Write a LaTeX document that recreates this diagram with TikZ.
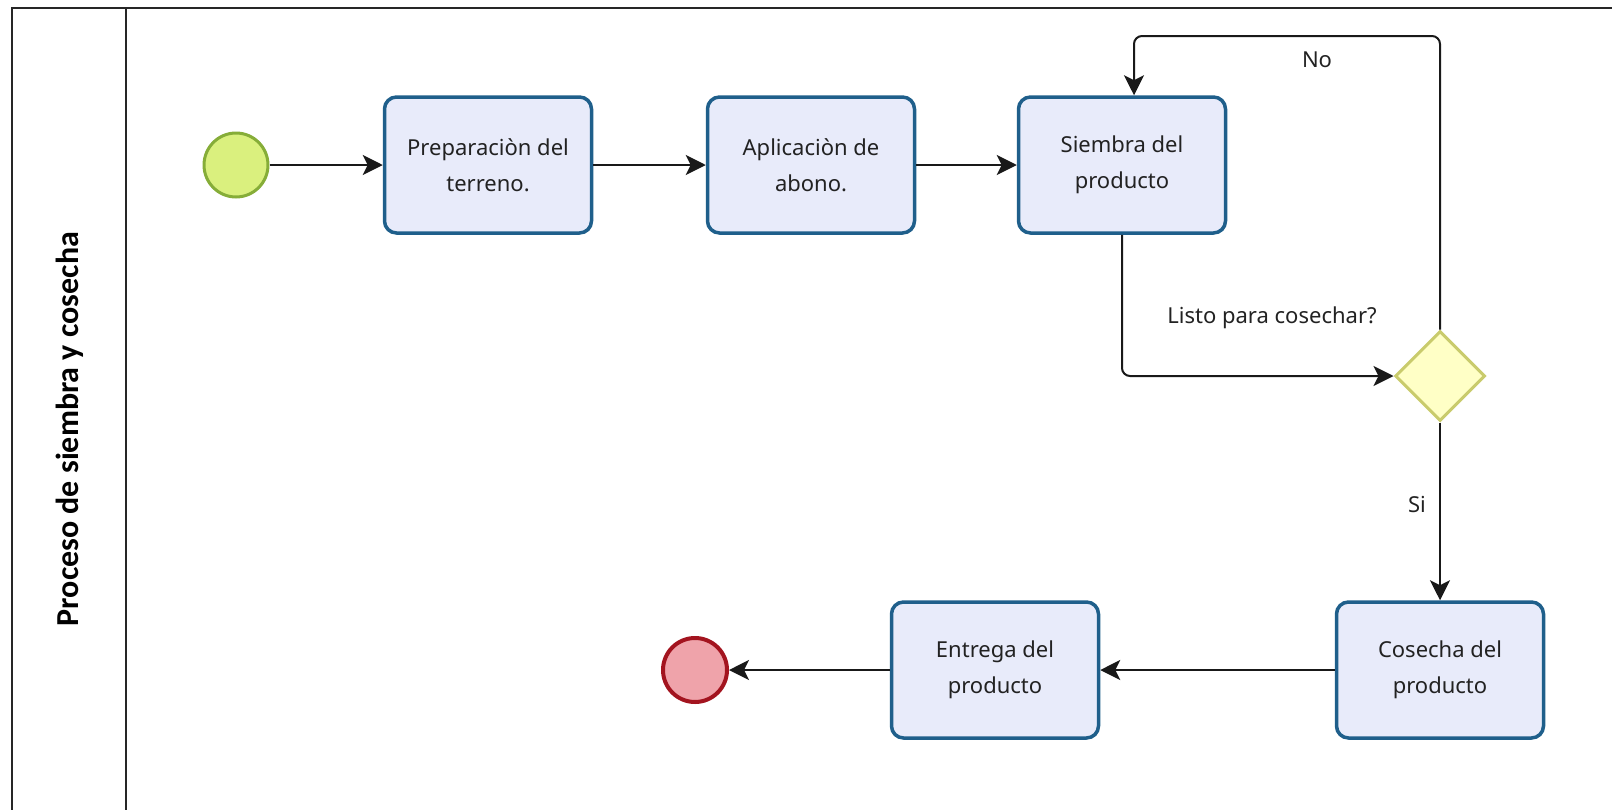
\documentclass[tikz,border=0pt]{standalone}
\usepackage{fontspec}
\setmainfont{Noto Sans}
\newfontfamily\lanefont{Carlito}
\usetikzlibrary{shapes.geometric,arrows.meta}
\definecolor{taskfill}{HTML}{E8EBFA}
\definecolor{taskdraw}{HTML}{1F5F8B}
\definecolor{startfill}{HTML}{DAF07E}
\definecolor{startdraw}{HTML}{86AD38}
\definecolor{endfill}{HTML}{EFA3AA}
\definecolor{enddraw}{HTML}{A3141F}
\definecolor{gwfill}{HTML}{FFFFC6}
\definecolor{gwdraw}{HTML}{C9CB6C}
\definecolor{txt}{HTML}{222222}
\tikzset{
  task/.style={draw=taskdraw, fill=taskfill, line width=3.5pt, rounded corners=12pt,
    minimum width=207pt, minimum height=136pt, inner sep=0pt, align=center,
    text=txt, font=\fontsize{22}{36}\selectfont},
  startev/.style={circle, draw=startdraw, fill=startfill, line width=3pt, minimum size=64pt, inner sep=0pt},
  endev/.style={circle, draw=enddraw, fill=endfill, line width=4pt, minimum size=64pt, inner sep=0pt},
  gateway/.style={diamond, draw=gwdraw, fill=gwfill, line width=3pt, minimum size=90pt, inner sep=0pt, aspect=1},
  flow/.style={draw=black!90, line width=2pt, rounded corners=8pt, -{Stealth[length=20pt, width=20pt, inset=5pt]}},
  lbl/.style={font=\fontsize{22}{26}\selectfont, text=txt, inner sep=0pt},
  frame/.style={draw=black!85, line width=2.5pt}
}
\begin{document}
\begin{tikzpicture}[x=1pt, y=-1pt]
\useasboundingbox (0,0) rectangle (1612,809);
% pool frame
\draw[frame] (1612,8) -- (12,8) -- (12,812);
\draw[frame] (126,8) -- (126,812);
\node[rotate=90, font=\lanefont\bfseries\fontsize{32}{36}\selectfont, inner sep=0pt] (lane) at (70,429) {Proceso de siembra y cosecha};
% nodes
\node[startev] (start) at (236,165) {};
\node[task] (b1) at (488,165) {Preparaciòn del\\terreno.};
\node[task] (b2) at (811,165) {Aplicaciòn de\\abono.};
\node[task] (b3) at (1122,165) {Siembra del\\producto};
\node[gateway] (gw) at (1440,376) {};
\node[task] (b4) at (1440,670) {Cosecha del\\producto};
\node[task] (b5) at (995,670) {Entrega del\\producto};
\node[endev] (end) at (695,670) {};
\coordinate (top) at (1440,36);
\coordinate (b3in) at ([xshift=12pt]b3.north);
% flows
\draw[flow] (start) -- (b1);
\draw[flow] (b1) -- (b2);
\draw[flow] (b2) -- (b3);
\draw[flow] (b3.south) |- (gw.west);
\draw[flow] (gw.north) -- (top) -| (b3in);
\draw[flow] (gw.south) -- (b4.north);
\draw[flow] (b4.west) -- (b5.east);
\draw[flow] (b5.west) -- (end.east);
% labels
\node[lbl] (lno) at (1317,60) {No};
\node[lbl] (llisto) at (1272,318) {Listo para cosechar?};
\node[lbl] (lsi) at (1417,504) {Si};
\end{tikzpicture}
\end{document}
